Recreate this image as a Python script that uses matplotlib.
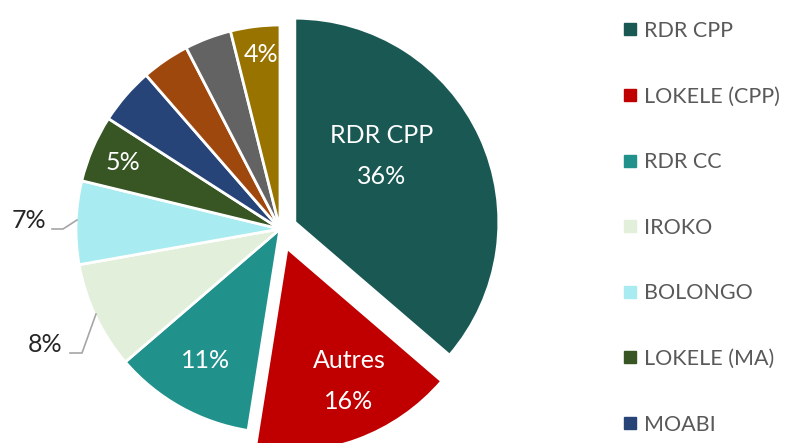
import numpy as np
import matplotlib.pyplot as plt
from matplotlib.lines import Line2D

# ---------------------------------------------------------------
# Data (share of volume, %).
# ---------------------------------------------------------------
categories = ['RDR CPP', 'LOKELE (CPP)', 'RDR CC', 'IROKO', 'BOLONGO',
              'LOKELE (MA)', 'MOABI']
shares = [36.3, 16.2, 11.2, 8.5, 6.6, 5.3, 4.5, 3.8, 3.7, 3.9]
slice_labels = ['RDR CPP\n36%', 'Autres\n16%', '11%', '8%', '7%', '5%',
                '', '', '', '4%']
colors = ['#195853', '#c00000', '#21918c', '#e2efda', '#a8ebf0',
          '#375623', '#264478', '#9e480e', '#636363', '#997300']
explode = [0.08, 0.10, 0, 0, 0, 0, 0, 0, 0, 0]  # fraction of radius

# ---------------------------------------------------------------
# Layout (figure pixels, y measured from the top).
# ---------------------------------------------------------------
W, H = 790, 443
cx, cy, R = 280, 229, 204
label_xy = [(382, 156), (349, 381), (206, 361), (45, 345), (29, 220),
            (123, 162), None, None, None, (261, 54)]
inside = [True, True, True, False, False, True, False, False, False, True]
leaders = {3: [(70, 353), (82, 353), (96, 314)],
           4: [(52, 229), (63, 229), (77, 220)]}

plt.rcParams['font.family'] = ['Lato', 'DejaVu Sans']

fig = plt.figure(figsize=(W / 100, H / 100), dpi=100)
ax = fig.add_axes([0, 0, 1, 1])

# matplotlib offsets exploded wedges in data units, so scale by R
wedges, _ = ax.pie(shares, colors=colors, explode=[e * R for e in explode],
                   startangle=90, counterclock=False, center=(cx, H - cy),
                   radius=R, frame=True,
                   wedgeprops=dict(edgecolor='white', linewidth=2))
ax.set_xlim(0, W)
ax.set_ylim(0, H)
ax.set_aspect('equal')
ax.axis('off')

for i, lab in enumerate(slice_labels):
    if not lab:
        continue
    x, y = label_xy[i]
    ax.text(x, H - y, lab, ha='center', va='center', fontsize=18,
            linespacing=1.95,
            color='white' if inside[i] else '#262626')

for pts in leaders.values():
    ax.plot([p[0] for p in pts], [H - p[1] for p in pts], color='#a6a6a6', lw=1.2)

# legend only shows the entries that fit in the frame
handles = [Line2D([], [], ls='', marker='s', markersize=8.5, color=colors[i])
           for i in range(len(categories))]
leg = fig.legend(handles, categories, loc='upper left',
                 bbox_to_anchor=(612 / W, 1 - 10 / H), frameon=False,
                 fontsize=15.5, labelcolor='#595959', labelspacing=2.12,
                 handlelength=0.7, handletextpad=0.3, borderpad=0)

fig.savefig('out.png', dpi=100)
plt.close()
